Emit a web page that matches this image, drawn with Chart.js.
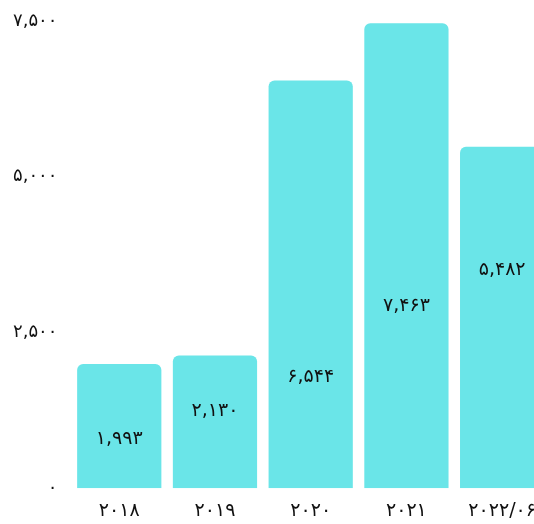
<!DOCTYPE html>
<html><head><meta charset="utf-8">
<script src="https://cdn.jsdelivr.net/npm/chart.js@4.4.0/dist/chart.umd.min.js"></script>
<style>html,body{margin:0;padding:0;overflow:hidden;background:#fff;}#wrap{width:560px;height:524px;}</style>
</head><body><div id="wrap"><canvas id="c" width="560" height="524"></canvas></div>
<script>
const categories = ['۲۰۱۸', '۲۰۱۹', '۲۰۲۰', '۲۰۲۱', '۲۰۲۲/۰۶'];
const values = [1993, 2130, 6544, 7463, 5482];
const labelAnchor = [790, 1232, 1790, 2930, 3505];
const yTicks = [0, 2500, 5000, 7500];

const fa = n => n.toLocaleString('en-US').replace(/\d/g, d => '۰۱۲۳۴۵۶۷۸۹'[d]);
const FONT = "'DejaVu Sans', sans-serif";

const labelPlugin = {
  id: 'inlabels',
  afterDatasetsDraw(chart) {
    const ctx = chart.ctx, meta = chart.getDatasetMeta(0), ys = chart.scales.y;
    ctx.save();
    ctx.font = "19px " + FONT;
    ctx.fillStyle = '#111';
    ctx.textAlign = 'center';
    ctx.textBaseline = 'middle';
    meta.data.forEach((bar, i) => {
      ctx.fillText(fa(values[i]), bar.x, ys.getPixelForValue(labelAnchor[i]));
    });
    ctx.restore();
  }
};

new Chart(document.getElementById('c'), {
  type: 'bar',
  data: { labels: categories, datasets: [{ data: values, backgroundColor: 'rgb(106,229,232)', borderRadius: 6, borderSkipped: 'bottom', barPercentage: 0.88, categoryPercentage: 1 }] },
  options: {
    responsive: false, animation: false,
    layout: { padding: { left: 7, right: 10, top: 21, bottom: -1 } },
    plugins: { legend: { display: false }, tooltip: { enabled: false } },
    scales: {
      x: { grid: { display: false }, border: { display: false },
           ticks: { color: '#111', font: { family: FONT, size: 19 }, padding: 3 } },
      y: { min: 0, max: 7500, grid: { display: false }, border: { display: false },
           afterBuildTicks: s => { s.ticks = yTicks.map(v => ({ value: v })); },
           ticks: { color: '#111', font: { family: FONT, size: 18 }, padding: 6, callback: v => fa(v) } }
    }
  },
  plugins: [labelPlugin]
});
</script></body></html>
